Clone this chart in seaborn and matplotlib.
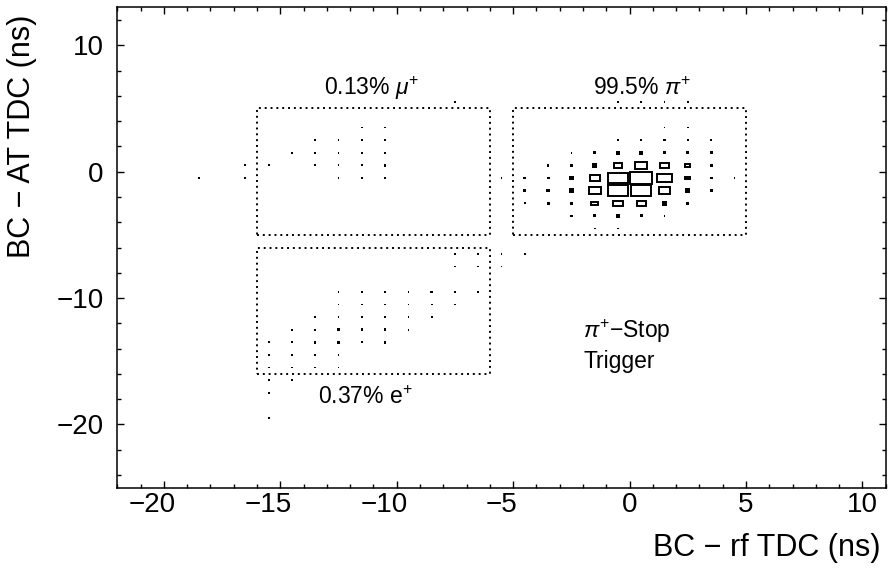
import numpy as np
import pandas as pd
import matplotlib.pyplot as plt
import matplotlib.transforms as mtrans
from matplotlib.patches import Rectangle
from matplotlib.ticker import MultipleLocator
import seaborn as sns

# bin centres (1 ns bins) and cell contents
# pi+ peak region
pi_x = [-5.5, -4.5, -3.5, -2.5, -1.5, -0.5, 0.5, 1.5, 2.5, 3.5, 4.5]
pi_y = [5.5, 4.5, 3.5, 2.5, 1.5, 0.5, -0.5, -1.5, -2.5, -3.5, -4.5]
pi_n = [
    [0, 0, 0, 0, 0, 1, 1, 1, 1, 0, 0],
    [0, 0, 0, 0, 0, 0, 0, 0, 0, 0, 0],
    [0, 0, 0, 0, 0, 0, 0, 1, 1, 0, 0],
    [0, 0, 0, 0, 0, 2, 2, 2, 2, 2, 0],
    [0, 0, 0, 1, 3, 5, 7, 4, 3, 3, 0],
    [0, 0, 2, 3, 8, 40, 53, 43, 24, 3, 0],
    [1, 3, 3, 7, 46, 89, 100, 72, 24, 3, 1],
    [0, 3, 4, 8, 53, 92, 89, 52, 8, 3, 0],
    [0, 1, 3, 4, 29, 46, 40, 9, 3, 0, 0],
    [0, 0, 0, 2, 3, 8, 3, 1, 0, 0, 0],
    [0, 0, 0, 0, 1, 1, 0, 0, 0, 0, 0],
]

# mu+ region
mu_x = [-18.5, -17.5, -16.5, -15.5, -14.5, -13.5, -12.5, -11.5, -10.5, -9.5, -8.5, -7.5, -6.5]
mu_y = [5.5, 4.5, 3.5, 2.5, 1.5, 0.5, -0.5]
mu_n = [
    [0, 0, 0, 0, 0, 0, 0, 0, 0, 0, 0, 1, 0],
    [0, 0, 0, 0, 0, 0, 0, 0, 0, 0, 0, 0, 0],
    [0, 0, 0, 0, 0, 0, 0, 1, 1, 0, 0, 0, 0],
    [0, 0, 0, 0, 0, 1, 1, 1, 1, 0, 0, 0, 0],
    [0, 0, 0, 0, 1, 1, 1, 1, 2, 0, 0, 0, 0],
    [0, 0, 1, 1, 0, 1, 1, 1, 2, 0, 0, 0, 0],
    [1, 0, 1, 0, 0, 0, 1, 1, 2, 0, 0, 0, 0],
]

# e+ region
e_x = [-15.5, -14.5, -13.5, -12.5, -11.5, -10.5, -9.5, -8.5, -7.5, -6.5, -5.5, -4.5]
e_y = [-6.5, -7.5, -8.5, -9.5, -10.5, -11.5, -12.5, -13.5, -14.5, -15.5,
       -16.5, -17.5, -18.5, -19.5]
e_n = [
    [0, 0, 0, 0, 0, 0, 0, 0, 1, 1, 1, 1],
    [0, 0, 0, 0, 0, 0, 0, 0, 1, 1, 1, 0],
    [0, 0, 0, 0, 0, 0, 0, 0, 0, 0, 0, 0],
    [0, 0, 0, 1, 1, 1, 1, 2, 2, 1, 0, 0],
    [0, 0, 0, 1, 1, 1, 1, 1, 1, 0, 0, 0],
    [0, 0, 1, 1, 1, 2, 1, 1, 0, 0, 0, 0],
    [0, 1, 1, 2, 2, 2, 1, 0, 0, 0, 0, 0],
    [1, 1, 2, 2, 1, 2, 0, 0, 0, 0, 0, 0],
    [1, 1, 1, 1, 0, 0, 0, 0, 0, 0, 0, 0],
    [1, 1, 1, 1, 0, 0, 0, 0, 0, 0, 0, 0],
    [1, 1, 0, 0, 0, 0, 0, 0, 0, 0, 0, 0],
    [1, 0, 0, 0, 0, 0, 0, 0, 0, 0, 0, 0],
    [0, 0, 0, 0, 0, 0, 0, 0, 0, 0, 0, 0],
    [1, 0, 0, 0, 0, 0, 0, 0, 0, 0, 0, 0],
]

# cut windows (ns)
cut_x0 = [-5, -16, -16]
cut_x1 = [5, -6, -6]
cut_y0 = [-5, -5, -16]
cut_y1 = [5, 5, -6]

pct_labels = ['0.13% $\\mu^{+}$', '99.5% $\\pi^{+}$', '0.37% e$^{+}$']
x_ticks = [-20, -15, -10, -5, 0, 5, 10]
y_ticks = [-20, -10, 0, 10]


def to_long(mat, xc, yc):
    df = pd.DataFrame(mat, index=yc, columns=xc)
    long = df.stack().reset_index()
    long.columns = ['y', 'x', 'n']
    return long[long['n'] > 0]


cells = pd.concat([to_long(pi_n, pi_x, pi_y),
                   to_long(mu_n, mu_x, mu_y),
                   to_long(e_n, e_x, e_y)], ignore_index=True)
dots = cells[cells['n'] < 15]
boxes = cells[cells['n'] >= 15]

sns.set_style('ticks')
plt.rcParams['font.family'] = ['Liberation Sans', 'DejaVu Sans']
plt.rcParams['mathtext.fontset'] = 'custom'
plt.rcParams['mathtext.rm'] = 'Liberation Sans'
plt.rcParams['mathtext.it'] = 'Liberation Sans:italic'
plt.rcParams['text.color'] = 'black'
plt.rcParams['xtick.color'] = 'black'
plt.rcParams['ytick.color'] = 'black'
plt.rcParams['axes.labelcolor'] = 'black'

fig = plt.figure(figsize=(8.92, 5.68), dpi=100)
ax = fig.add_axes([0.1315, 0.1414, 0.8615, 0.8457])

# small cells look like dots
sns.scatterplot(data=dots, x='x', y='y', size='n', sizes=(1.6, 14), size_norm=(1, 10),
                marker='s', color='black', linewidth=0, legend=False, ax=ax)

# big cells as open boxes, side proportional to content
nmax = cells['n'].max()
for r in boxes.itertuples():
    side = 0.95 * r.n / nmax
    ax.add_patch(Rectangle((r.x - side / 2, r.y - side / 2), side, side,
                           fill=False, ec='black', lw=1.4))

# dotted cut windows
for x0, x1, y0, y1 in zip(cut_x0, cut_x1, cut_y0, cut_y1):
    ax.add_patch(Rectangle((x0, y0), x1 - x0, y1 - y0, fill=False, ec='black',
                           lw=1.4, ls=(0, (1, 2))))

ax.text(-11.1, 6.05, pct_labels[0], fontsize=16.5, ha='center', va='baseline')
ax.text(0.55, 6.05, pct_labels[1], fontsize=16.5, ha='center', va='baseline')
ax.text(-11.35, -18.4, pct_labels[2], fontsize=16.5, ha='center', va='baseline')
ax.text(-2.0, -13.13, '$\\pi^{+}$\u2212Stop', fontsize=16.5, ha='left', va='baseline')
ax.text(-2.0, -15.5, 'Trigger', fontsize=16.5, ha='left', va='baseline')

ax.set_xlim(-22, 11)
ax.set_ylim(-25, 13)
ax.set_xticks(x_ticks, labels=[str(v).replace('-', '\u2212') for v in x_ticks])
ax.set_yticks(y_ticks, labels=[str(v).replace('-', '\u2212') for v in y_ticks])
ax.xaxis.set_minor_locator(MultipleLocator(1))
ax.yaxis.set_minor_locator(MultipleLocator(2))
ax.tick_params(which='both', direction='in', top=True, right=True, width=1,
               color='black', labelcolor='black', labelsize=20)
ax.tick_params(which='major', length=5)
ax.tick_params(which='minor', length=2.8)
ax.tick_params(axis='x', pad=3)
ax.tick_params(axis='y', pad=10)
for s in ax.spines.values():
    s.set_linewidth(1.1)
    s.set_color('black')

# digits centred on the tick, minus sign hanging to the left
shift = mtrans.ScaledTranslation(-0.12, 0, fig.dpi_scale_trans)
for lab, v in zip(ax.get_xticklabels(), x_ticks):
    if v < 0:
        lab.set_transform(lab.get_transform() + shift)

ax.set_xlabel('')
ax.set_ylabel('')
fig.text(0.987, 0.022, 'BC \u2212 rf TDC (ns)', fontsize=22, ha='right', va='baseline')
fig.text(0.0247, 0.974, 'BC \u2212 AT TDC (ns)', fontsize=22, rotation=90,
         ha='center', va='top')

fig.savefig('out.png', dpi=100)
